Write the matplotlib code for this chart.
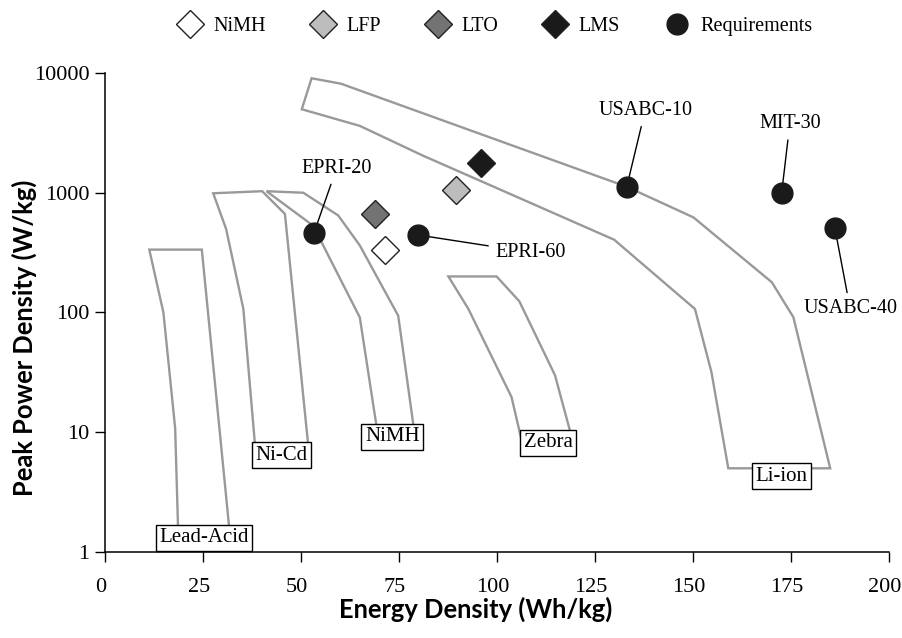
import numpy as np
import matplotlib
matplotlib.use("Agg")
import matplotlib.pyplot as plt
import matplotlib.transforms as mtransforms
from matplotlib.lines import Line2D
from matplotlib.ticker import FixedLocator, FixedFormatter, NullLocator

plt.rcParams['font.family'] = ['Liberation Serif', 'DejaVu Serif']

# Области технологий (контуры на плоскости энергия / мощность)
lead_acid_x = [11.3, 24.7, 31.9, 18.7, 17.9, 14.9]
lead_acid_y = [335, 335, 1.35, 1.35, 10.8, 100]

ni_cd_x = [27.6, 40.1, 45.9, 52.1, 38.5, 35.3, 30.9]
ni_cd_y = [990, 1030, 665, 6.4, 6.4, 107, 498]

nimh_x = [41.2, 50.6, 59.5, 65.0, 74.8, 79.1, 69.7, 65.0, 53.1]
nimh_y = [1030, 1000, 646, 363, 94, 9.1, 9.1, 91, 531]

zebra_x = [87.6, 99.9, 105.7, 114.8, 119.3, 106.3, 103.7, 92.7]
zebra_y = [200, 200, 124, 29.9, 8.5, 8.5, 19.7, 107]

li_ion_x = [52.7, 60.2, 133.1, 150.1, 170.1, 175.6, 185.0, 159.0,
            154.7, 150.5, 129.9, 95.7, 81.2, 65.0, 50.2]
li_ion_y = [9036, 8138, 1122, 623, 179, 91.4, 5.0, 5.0,
            31.8, 107, 405, 1259, 2034, 3617, 4980]

regions = [
    ("Lead-Acid", lead_acid_x, lead_acid_y),
    ("Ni-Cd", ni_cd_x, ni_cd_y),
    ("NiMH", nimh_x, nimh_y),
    ("Zebra", zebra_x, zebra_y),
    ("Li-ion", li_ion_x, li_ion_y),
]
# подписи областей (центр рамки)
region_label_x = [25.3, 45.1, 73.3, 113.0, 172.6]
region_label_y = [1.32, 6.43, 9.13, 8.2, 4.28]

# Отдельные химии (ромбы)
cells = ["NiMH", "LFP", "LTO", "LMS"]
cell_x = [71.5, 89.5, 69.0, 95.9]
cell_y = [335, 1059, 664, 1755]
cell_colors = ["white", "#bdbdbd", "#737373", "#1a1a1a"]

# Требования
req_names = ["EPRI-20", "EPRI-60", "USABC-10", "MIT-30", "USABC-40"]
req_x = [53.3, 79.8, 133.1, 172.6, 186.2]
req_y = [461, 444, 1122, 986, 505]
req_text_x = [59.1, 108.5, 137.8, 174.7, 190.1]
req_text_y = [1607, 318, 4889, 3783, 107]

fig = plt.figure(figsize=(9.02, 6.38), dpi=100)
ax = fig.add_axes([0.1164, 0.1348, 0.8692, 0.7508])

gray = "#999999"
for (name, xs, ys), lx, ly in zip(regions, region_label_x, region_label_y):
    ax.fill(xs, ys, facecolor="none", edgecolor=gray, lw=1.7, zorder=2)
    ax.text(lx, ly, name, ha="center", va="center", fontsize=15, zorder=6,
            bbox=dict(boxstyle="square,pad=0.17", fc="white", ec="black", lw=1))

for x, y, c in zip(cell_x, cell_y, cell_colors):
    ax.plot(x, y, marker="D", ms=14, mfc=c, mec="#222222", mew=1,
            ls="none", zorder=4)

for name, x, y, tx, ty in zip(req_names, req_x, req_y, req_text_x, req_text_y):
    ax.annotate(name, xy=(x, y), xytext=(tx, ty), ha="center", va="center",
                fontsize=14.5, zorder=5,
                arrowprops=dict(arrowstyle="-", color="black", lw=1,
                                shrinkA=3, shrinkB=0))
ax.plot(req_x, req_y, marker="o", ms=15, mfc="#1a1a1a", mec="#1a1a1a",
        ls="none", zorder=5)

ax.set_yscale("log")
ax.set_xlim(0, 200)
ax.set_ylim(1, 10000)
ax.set_xticks(np.arange(0, 201, 25))
ax.yaxis.set_major_locator(FixedLocator([1, 10, 100, 1000, 10000]))
ax.yaxis.set_major_formatter(FixedFormatter(["1", "10", "100", "1000", "10000"]))
ax.yaxis.set_minor_locator(NullLocator())
ax.tick_params(axis="both", direction="out", length=7, width=1,
               labelsize=16, color="black")
ax.tick_params(axis="x", pad=12)
ax.tick_params(axis="y", pad=4)
shift = mtransforms.ScaledTranslation(-4 / 100, 0, fig.dpi_scale_trans)
for lbl in ax.get_xticklabels():
    lbl.set_transform(lbl.get_transform() + shift)
for s in ["top", "right"]:
    ax.spines[s].set_visible(False)
for s in ["left", "bottom"]:
    ax.spines[s].set_linewidth(1.1)

ax.set_xlabel("Energy Density (Wh/kg)", fontsize=18.4, fontweight="bold",
              family=["Lato", "DejaVu Sans"], va="center")
ax.xaxis.set_label_coords(0.473, -0.119)
ax.set_ylabel("Peak Power Density (W/kg)", fontsize=18.4, fontweight="bold",
              family=["Lato", "DejaVu Sans"], va="center")
ax.yaxis.set_label_coords(-0.103, 0.447)

handles = [Line2D([], [], marker="D", ms=14, mfc=c, mec="#222222", mew=1, ls="none")
           for c in cell_colors]
handles.append(Line2D([], [], marker="o", ms=15, mfc="#1a1a1a", mec="#1a1a1a", ls="none"))
labels = cells + ["Requirements"]
fig.legend(handles, labels, loc="center", bbox_to_anchor=(0.549, 0.959), ncol=5,
           frameon=False, fontsize=14.5, handletextpad=0.55, columnspacing=2.25,
           handlelength=1.2)

fig.savefig("out.png", dpi=100)
